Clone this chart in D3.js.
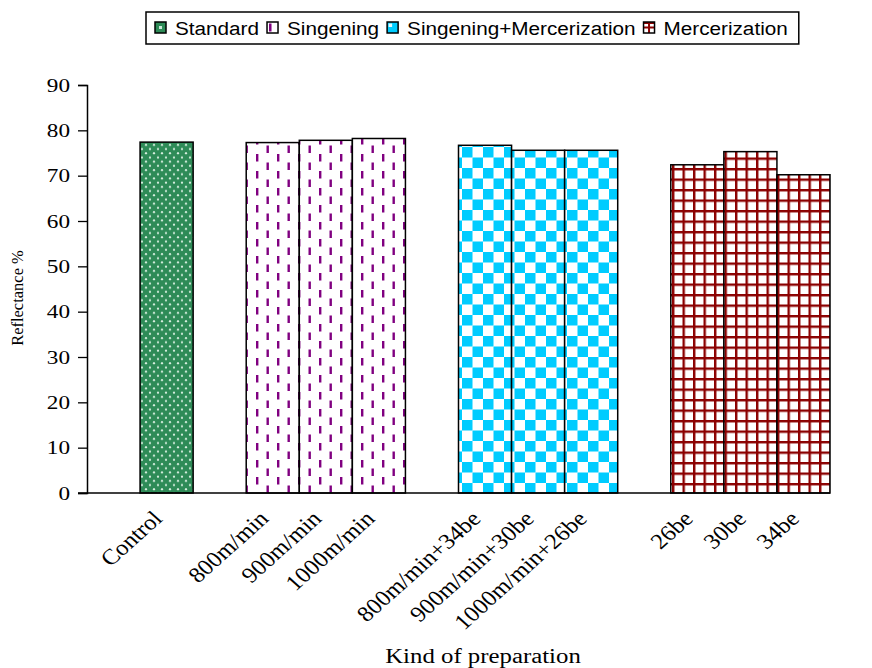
<!DOCTYPE html>
<html><head><meta charset="utf-8">
<script src="https://cdn.jsdelivr.net/npm/d3@7/dist/d3.min.js"></script>
<style>body{margin:0;background:#fff}svg{display:block}</style>
</head><body>
<svg id="chart" width="872" height="668"></svg>
<script>
// ---- data ----
const categories = ["Control","800m/min","900m/min","1000m/min","800m/min+34be","900m/min+30be","1000m/min+26be","26be","30be","34be"];
const values = [77.4, 77.3, 77.8, 78.2, 76.7, 75.6, 75.6, 72.4, 75.3, 70.2];
const seriesOf = ["Standard","Singening","Singening","Singening","Singening+Mercerization","Singening+Mercerization","Singening+Mercerization","Mercerization","Mercerization","Mercerization"];
const seriesNames = ["Standard","Singening","Singening+Mercerization","Mercerization"];
const yTicks = [0,10,20,30,40,50,60,70,80,90];

// slot layout: an empty slot before every group
const slots = [];
seriesOf.forEach((s,i)=>{ if(i===0 || seriesOf[i-1]!==s) slots.push("_gap"+slots.length); slots.push(categories[i]); });

const svg = d3.select("#chart");
const m = {left:87, right:830, top:85, bottom:493};
const x = d3.scaleBand().domain(slots).range([m.left, m.right]).padding(0);
const y = d3.scaleLinear().domain([0,90]).range([m.bottom, m.top]);

const defs = svg.append("defs");
// Standard: green with light dots
let p = defs.append("pattern").attr("id","p-Standard").attr("patternUnits","userSpaceOnUse").attr("width",8).attr("height",8.4);
p.append("rect").attr("width",8).attr("height",8.4).attr("fill","#2E8B57");
p.append("circle").attr("cx",2).attr("cy",2).attr("r",1.1).attr("fill","#d8efe0");
p.append("circle").attr("cx",6).attr("cy",6.2).attr("r",1.1).attr("fill","#d8efe0");
// Singening: white with purple dashes
p = defs.append("pattern").attr("id","p-Singening").attr("patternUnits","userSpaceOnUse").attr("width",21).attr("height",17);
p.append("rect").attr("width",21).attr("height",17).attr("fill","#fff");
p.append("rect").attr("x",4).attr("y",1).attr("width",2.4).attr("height",7.5).attr("fill","#800080");
p.append("rect").attr("x",14.5).attr("y",9.5).attr("width",2.4).attr("height",7.5).attr("fill","#800080");
// Singening+Mercerization: cyan checker
p = defs.append("pattern").attr("id","p-Singening+Mercerization").attr("patternUnits","userSpaceOnUse").attr("width",21).attr("height",21);
p.append("rect").attr("width",21).attr("height",21).attr("fill","#fff");
p.append("rect").attr("width",10.5).attr("height",10.5).attr("fill","#00CCFF");
p.append("rect").attr("x",10.5).attr("y",10.5).attr("width",10.5).attr("height",10.5).attr("fill","#00CCFF");
// Mercerization: dark red grid
p = defs.append("pattern").attr("id","p-Mercerization").attr("patternUnits","userSpaceOnUse").attr("width",10.5).attr("height",10.5);
p.append("rect").attr("width",10.5).attr("height",10.5).attr("fill","#fff");
p.append("rect").attr("width",2.4).attr("height",10.5).attr("fill","#8B0000");
p.append("rect").attr("width",10.5).attr("height",2.4).attr("fill","#8B0000");
const fillOf = s => `url(#p-${s})`;

function stretch(sel, k){ sel.each(function(){ const L=this.getComputedTextLength(); d3.select(this).attr("textLength", L*k).attr("lengthAdjust","spacingAndGlyphs"); }); }

// bars
svg.append("g").selectAll("rect").data(values).join("rect")
  .attr("x",(d,i)=>x(categories[i]))
  .attr("y",d=>y(d))
  .attr("width",x.bandwidth())
  .attr("height",d=>y(0)-y(d))
  .attr("fill",(d,i)=>fillOf(seriesOf[i]))
  .attr("stroke","#000").attr("stroke-width",1.5);

// y axis
const yAxis = svg.append("g").attr("transform",`translate(${m.left},0)`)
  .call(d3.axisLeft(y).tickValues(yTicks).tickSize(9).tickPadding(8));
yAxis.select(".domain").attr("stroke","#000").attr("stroke-width",1.5);
yAxis.selectAll(".tick line").attr("stroke","#000").attr("stroke-width",1.3);
yAxis.selectAll(".tick text").attr("font-family","Liberation Serif").attr("font-size",19).attr("fill","#000").call(stretch, 1.22);

// x axis
const xAxis = svg.append("g").attr("transform",`translate(0,${m.bottom})`)
  .call(d3.axisBottom(x).tickSize(0).tickFormat(d=>d.startsWith("_gap")?"":d));
xAxis.select(".domain").attr("stroke","#000").attr("stroke-width",1.5).attr("d",`M${m.left-9},0H${m.right}`);
xAxis.selectAll(".tick text")
  .attr("font-family","Liberation Serif").attr("font-size",22).attr("fill","#000")
  .attr("text-anchor","end").attr("dy",0).attr("y",0).attr("x",0)
  .attr("transform","translate(-3,27) scale(1.12,1) rotate(-45)");

// axis titles
svg.append("text").attr("x",483).attr("y",663).attr("text-anchor","middle")
  .attr("font-family","Liberation Serif").attr("font-size",20).text("Kind of preparation").call(stretch, 1.24);
svg.append("text").attr("transform",`translate(23,298) rotate(-90)`).attr("text-anchor","middle")
  .attr("font-family","Liberation Serif").attr("font-size",16.5).text("Reflectance %");

// legend
const lg = svg.append("g");
const box = lg.append("rect").attr("x",146).attr("y",12).attr("height",32).attr("fill","#fff").attr("stroke","#000").attr("stroke-width",1.5);
let cx = 155;
seriesNames.forEach(s=>{
  const sw = lg.append("g").attr("transform",`translate(${cx},22)`);
  if(s==="Standard"){
    sw.append("rect").attr("width",11).attr("height",11).attr("fill","#2E8B57");
    sw.append("rect").attr("x",4).attr("y",4).attr("width",3).attr("height",3).attr("fill","#cfeadb");
  } else if(s==="Singening"){
    sw.append("rect").attr("width",11).attr("height",11).attr("fill","#fff");
    sw.append("rect").attr("x",2).attr("y",1.5).attr("width",2.5).attr("height",8).attr("fill","#800080");
  } else if(s==="Singening+Mercerization"){
    sw.append("rect").attr("width",11).attr("height",11).attr("fill","#00CCFF");
    sw.append("rect").attr("x",1.5).attr("y",1.5).attr("width",3.5).attr("height",3.5).attr("fill","#e6faff");
  } else {
    sw.append("rect").attr("width",11).attr("height",11).attr("fill","#fff");
    sw.append("rect").attr("x",4.5).attr("y",0).attr("width",2).attr("height",11).attr("fill","#8B0000");
    sw.append("rect").attr("x",0).attr("y",4.5).attr("width",11).attr("height",2).attr("fill","#8B0000");
    sw.append("rect").attr("x",0).attr("y",0).attr("width",11).attr("height",2).attr("fill","#8B0000");
  }
  sw.append("rect").attr("width",11).attr("height",11).attr("fill","none").attr("stroke","#000").attr("stroke-width",1.5);
  const t = lg.append("text").attr("x",cx+20).attr("y",34.5).attr("font-family","Liberation Sans").attr("font-size",18).text(s);
  t.call(stretch, 1.15);
  cx += 20 + (+t.attr("textLength")) + 8;
});
box.attr("width", cx - 146 + 3);
</script>
</body></html>
